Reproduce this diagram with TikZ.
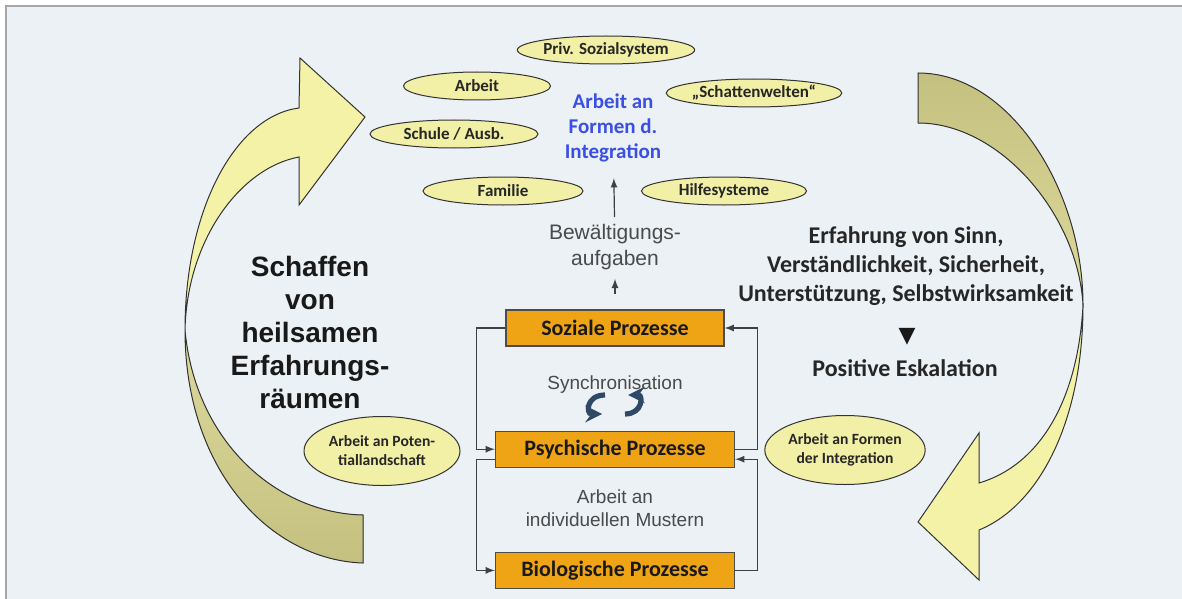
\documentclass[tikz,border=0pt]{standalone}
\usepackage{fontspec}
\usepackage{xcolor}
\usepackage{tikz}
\usetikzlibrary{shapes,arrows,positioning,calc}

\setmainfont{Carlito}
\newfontfamily\arialfont{Liberation Sans}
\newfontfamily\trianglefont{DejaVu Sans}

\definecolor{paper}{HTML}{EBF1F5}
\definecolor{frameline}{HTML}{A6A6A6}
\definecolor{fieldyellow}{HTML}{F2F0A6}
\definecolor{ribbonfront}{HTML}{F4F2A7}
\definecolor{ribbonback}{HTML}{C4C180}
\definecolor{ribbonbacklight}{HTML}{DCD99B}
\definecolor{procorange}{HTML}{EFA416}
\definecolor{goalblue}{HTML}{3A4FE3}
\definecolor{greytext}{HTML}{4A4A4A}
\definecolor{syncblue}{HTML}{2E4866}

\begin{document}
\begin{tikzpicture}[
    x=0.5pt, y=-0.5pt,
    node distance=42pt,
    field/.style={ellipse, draw=black!80, fill=fieldyellow, line width=0.5pt, inner sep=0pt, minimum height=14pt, text=black!85, font=\bfseries\fontsize{8.5}{10}\selectfont},
    bigfield/.style={field, minimum width=78pt, minimum height=34.5pt, align=center, font=\bfseries\fontsize{7.8}{9.5}\selectfont},
    proc/.style={rectangle, draw=black!70, fill=procorange, line width=0.6pt, minimum width=119.5pt, minimum height=18pt, inner sep=0pt, text=black!90, font=\bfseries\fontsize{11}{13}\selectfont},
    note/.style={align=center, text=greytext, font=\arialfont\fontsize{9.5}{11.5}\selectfont},
    claim/.style={align=center, text=black!85, font=\bfseries\fontsize{12}{14.5}\selectfont},
    link/.style={->, >=latex, draw=black!75, line width=0.6pt},
    ribbon/.style={draw=black!80, line width=0.5pt},
    syncarrow/.style={->, >=stealth, draw=syncblue, line width=2.6pt},
]
    \useasboundingbox (0,0) rectangle (1182,599);
    \fill[white] (0,0) rectangle (1182,599);
    \fill[paper] (6,6) rectangle (1182,599);
    \draw[frameline, line width=0.6pt] (6,599) -- (6,6) -- (1182,6);

    % left ribbon
    \filldraw[ribbon, top color=ribbonbacklight, bottom color=ribbonback] (185,330) .. controls (185,470) and (270,560) .. (363,563) -- (363,515) .. controls (275,513) and (195,440) .. (185,330) -- cycle;
    \filldraw[ribbon, fill=ribbonfront] (185,330) .. controls (185,208) and (236,116) .. (299,108) -- (300,58) -- (365,117) -- (299,205) -- (299,157) .. controls (240,168) and (187,240) .. (185,330) -- cycle;

    % right ribbon
    \filldraw[ribbon, top color=ribbonback, bottom color=ribbonbacklight] (918,73) .. controls (1010,73) and (1083,190) .. (1083,305) .. controls (1078,215) and (1000,123) .. (918,123) -- cycle;
    \filldraw[ribbon, fill=ribbonfront] (1083,305) .. controls (1083,420) and (1040,505) .. (979,530) -- (979,580) -- (918,522) -- (979,433) -- (979,483) .. controls (1040,465) and (1078,400) .. (1083,305) -- cycle;

    \node[field, minimum width=82.5pt] (privat) at (606,50) {Priv. Sozialsystem};
    \node[field, minimum width=73.5pt] (arbeit) at (477,86) {Arbeit};
    \node[field, minimum width=86pt] (schatten) at (754,93) {„Schattenwelten“};
    \node[field, minimum width=84pt] (schule) at (454,134) {Schule / Ausb.};
    \node[field, minimum width=80pt] (familie) at (503,191) {Familie};
    \node[field, minimum width=82.5pt] (hilfe) at (724,191) {Hilfesysteme};

    \node[align=center, text=goalblue, font=\bfseries\fontsize{10.5}{12.5}\selectfont] (ziel) at (613,128) {Arbeit an\\Formen d.\\Integration};
    \node[note, font=\arialfont\fontsize{10.5}{13}\selectfont] (aufgaben) at (615,247) {Bewältigungs-\\aufgaben};

    \node[proc, minimum width=109pt] (sozial) at (615,328) {Soziale Prozesse};
    \node[proc, below=of sozial] (psych) {Psychische Prozesse};
    \node[proc, below=of psych] (bio) {Biologische Prozesse};

    \node[note] (sync) at (615,385) {Synchronisation};
    \draw[syncarrow] (605,395) .. controls (586,395) and (586,414) .. (602,414);
    \draw[syncarrow] (625,414) .. controls (643,414) and (643,395) .. (628,395);
    \node[note] (muster) at (615,508) {Arbeit an\\individuellen Mustern};

    \node[bigfield] (potential) at (382,451) {Arbeit an Poten-\\tiallandschaft};
    \node[bigfield] (formen) at (845,450) {Arbeit an Formen\\der Integration};

    \node[align=center, text=black!90, font=\arialfont\bfseries\fontsize{14}{16.5}\selectfont] (raeume) at (310,332) {Schaffen\\von\\heilsamen\\Erfahrungs-\\räumen};

    \node[claim] (erfahrung) at (906,266) {Erfahrung von Sinn,\\Verständlichkeit, Sicherheit,\\Unterstützung, Selbstwirksamkeit};
    \node[text=black!90, font=\trianglefont\fontsize{11}{11}\selectfont] (pfeil) at (907,337) {▼};
    \node[claim] (eskalation) at (905,368) {Positive Eskalation};

    \draw[link, shorten >=4.5pt] (aufgaben) -- (ziel);
    \draw[link, shorten <=7.5pt, shorten >=1pt] (sozial) -- (aufgaben);
    \draw[link] (sozial.west) -- ++(-29,0) |- (psych.west);
    \draw[link] (psych.east) -- ++(22,0) |- (sozial.east);
    \draw[link] ([yshift=-5pt]psych.west) -- ++(-18.5,0) |- (bio.west);
    \draw[link] (bio.east) -- ++(22,0) |- ([yshift=-5pt]psych.east);
\end{tikzpicture}
\end{document}
